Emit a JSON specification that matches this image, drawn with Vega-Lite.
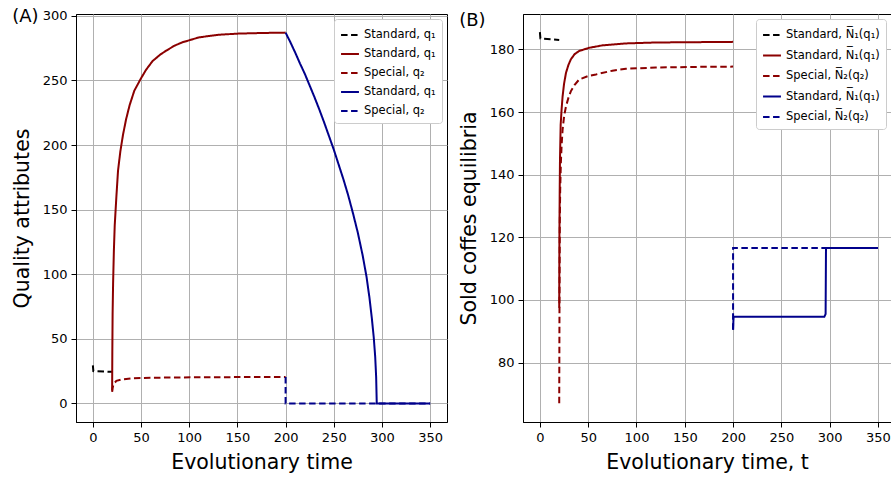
{
  "$schema": "https://vega.github.io/schema/vega-lite/v6.json",
  "padding": {"left": 11, "top": 7, "right": 0, "bottom": 5},
  "spacing": 76,
  "bounds": "flush",
  "datasets": {
    "A": [
      {"s": "s1", "i": 0, "t": 0, "v": 29.5},
      {"s": "s1", "i": 1, "t": 0.5, "v": 25},
      {"s": "s1", "i": 2, "t": 20, "v": 24.5},
      {"s": "s2", "i": 0, "t": 20, "v": 10},
      {"s": "s2", "i": 1, "t": 20.2, "v": 40},
      {"s": "s2", "i": 2, "t": 20.5, "v": 70},
      {"s": "s2", "i": 3, "t": 21, "v": 93},
      {"s": "s2", "i": 4, "t": 21.8, "v": 118},
      {"s": "s2", "i": 5, "t": 22.7, "v": 138},
      {"s": "s2", "i": 6, "t": 24.4, "v": 160},
      {"s": "s2", "i": 7, "t": 26.1, "v": 180},
      {"s": "s2", "i": 8, "t": 28.5, "v": 195},
      {"s": "s2", "i": 9, "t": 31.3, "v": 208},
      {"s": "s2", "i": 10, "t": 34.5, "v": 220},
      {"s": "s2", "i": 11, "t": 38.2, "v": 231},
      {"s": "s2", "i": 12, "t": 43, "v": 242},
      {"s": "s2", "i": 13, "t": 49.5, "v": 251},
      {"s": "s2", "i": 14, "t": 55, "v": 258},
      {"s": "s2", "i": 15, "t": 62, "v": 265},
      {"s": "s2", "i": 16, "t": 70, "v": 270},
      {"s": "s2", "i": 17, "t": 76, "v": 273},
      {"s": "s2", "i": 18, "t": 85, "v": 277},
      {"s": "s2", "i": 19, "t": 93, "v": 279.5},
      {"s": "s2", "i": 20, "t": 110, "v": 283.3},
      {"s": "s2", "i": 21, "t": 130, "v": 285.3},
      {"s": "s2", "i": 22, "t": 150, "v": 286.2},
      {"s": "s2", "i": 23, "t": 175, "v": 286.7},
      {"s": "s2", "i": 24, "t": 200, "v": 287},
      {"s": "s3", "i": 0, "t": 20, "v": 9},
      {"s": "s3", "i": 1, "t": 20.5, "v": 12},
      {"s": "s3", "i": 2, "t": 21.5, "v": 15},
      {"s": "s3", "i": 3, "t": 24.4, "v": 17.5},
      {"s": "s3", "i": 4, "t": 30, "v": 18.6},
      {"s": "s3", "i": 5, "t": 41.6, "v": 19.5},
      {"s": "s3", "i": 6, "t": 60, "v": 19.9},
      {"s": "s3", "i": 7, "t": 110, "v": 20.3},
      {"s": "s3", "i": 8, "t": 200, "v": 20.5},
      {"s": "s4", "i": 0, "t": 200, "v": 287},
      {"s": "s4", "i": 1, "t": 205, "v": 279.5},
      {"s": "s4", "i": 2, "t": 210, "v": 271.5},
      {"s": "s4", "i": 3, "t": 215, "v": 263},
      {"s": "s4", "i": 4, "t": 220, "v": 255},
      {"s": "s4", "i": 5, "t": 225, "v": 246},
      {"s": "s4", "i": 6, "t": 230, "v": 237},
      {"s": "s4", "i": 7, "t": 235, "v": 227.5},
      {"s": "s4", "i": 8, "t": 240, "v": 217.5},
      {"s": "s4", "i": 9, "t": 245, "v": 207},
      {"s": "s4", "i": 10, "t": 250, "v": 196.5},
      {"s": "s4", "i": 11, "t": 255, "v": 185},
      {"s": "s4", "i": 12, "t": 260, "v": 173.5},
      {"s": "s4", "i": 13, "t": 265, "v": 161},
      {"s": "s4", "i": 14, "t": 270, "v": 147},
      {"s": "s4", "i": 15, "t": 275, "v": 132},
      {"s": "s4", "i": 16, "t": 280, "v": 114.5},
      {"s": "s4", "i": 17, "t": 284, "v": 98},
      {"s": "s4", "i": 18, "t": 287, "v": 82},
      {"s": "s4", "i": 19, "t": 289.5, "v": 66},
      {"s": "s4", "i": 20, "t": 291.5, "v": 51},
      {"s": "s4", "i": 21, "t": 293, "v": 36},
      {"s": "s4", "i": 22, "t": 294, "v": 20},
      {"s": "s4", "i": 23, "t": 294.6, "v": 0},
      {"s": "s4", "i": 24, "t": 350, "v": 0},
      {"s": "s5", "i": 0, "t": 200, "v": 20.5},
      {"s": "s5", "i": 1, "t": 200, "v": 0},
      {"s": "s5", "i": 2, "t": 350, "v": 0}
    ],
    "B": [
      {"s": "s1", "i": 0, "t": 0, "v": 185.5},
      {"s": "s1", "i": 1, "t": 0.5, "v": 183.5},
      {"s": "s1", "i": 2, "t": 20, "v": 183},
      {"s": "s2", "i": 0, "t": 20, "v": 97.5},
      {"s": "s2", "i": 1, "t": 20.2, "v": 120},
      {"s": "s2", "i": 2, "t": 20.5, "v": 135},
      {"s": "s2", "i": 3, "t": 20.8, "v": 145},
      {"s": "s2", "i": 4, "t": 21.5, "v": 156},
      {"s": "s2", "i": 5, "t": 22.5, "v": 161},
      {"s": "s2", "i": 6, "t": 23.5, "v": 165},
      {"s": "s2", "i": 7, "t": 25, "v": 169},
      {"s": "s2", "i": 8, "t": 27, "v": 172.5},
      {"s": "s2", "i": 9, "t": 29.5, "v": 175},
      {"s": "s2", "i": 10, "t": 32, "v": 176.8},
      {"s": "s2", "i": 11, "t": 36, "v": 178.5},
      {"s": "s2", "i": 12, "t": 40.7, "v": 179.5},
      {"s": "s2", "i": 13, "t": 51, "v": 180.5},
      {"s": "s2", "i": 14, "t": 65, "v": 181.3},
      {"s": "s2", "i": 15, "t": 89, "v": 181.9},
      {"s": "s2", "i": 16, "t": 120, "v": 182.2},
      {"s": "s2", "i": 17, "t": 160, "v": 182.3},
      {"s": "s2", "i": 18, "t": 200, "v": 182.4},
      {"s": "s3", "i": 0, "t": 20, "v": 67},
      {"s": "s3", "i": 1, "t": 20.3, "v": 100},
      {"s": "s3", "i": 2, "t": 20.6, "v": 125},
      {"s": "s3", "i": 3, "t": 21, "v": 135},
      {"s": "s3", "i": 4, "t": 21.7, "v": 143.8},
      {"s": "s3", "i": 5, "t": 22.5, "v": 149.5},
      {"s": "s3", "i": 6, "t": 23.5, "v": 154.4},
      {"s": "s3", "i": 7, "t": 25, "v": 158.5},
      {"s": "s3", "i": 8, "t": 27, "v": 161.8},
      {"s": "s3", "i": 9, "t": 29.5, "v": 164.5},
      {"s": "s3", "i": 10, "t": 32, "v": 166.6},
      {"s": "s3", "i": 11, "t": 36, "v": 168.7},
      {"s": "s3", "i": 12, "t": 40.7, "v": 170.4},
      {"s": "s3", "i": 13, "t": 50, "v": 171.5},
      {"s": "s3", "i": 14, "t": 58, "v": 172},
      {"s": "s3", "i": 15, "t": 75, "v": 173.2},
      {"s": "s3", "i": 16, "t": 89, "v": 173.8},
      {"s": "s3", "i": 17, "t": 120, "v": 174.2},
      {"s": "s3", "i": 18, "t": 160, "v": 174.4},
      {"s": "s3", "i": 19, "t": 200, "v": 174.5},
      {"s": "s4", "i": 0, "t": 200, "v": 90.5},
      {"s": "s4", "i": 1, "t": 200.5, "v": 94.6},
      {"s": "s4", "i": 2, "t": 294.5, "v": 94.6},
      {"s": "s4", "i": 3, "t": 295.8, "v": 95.5},
      {"s": "s4", "i": 4, "t": 296.2, "v": 116.6},
      {"s": "s4", "i": 5, "t": 350, "v": 116.6},
      {"s": "s5", "i": 0, "t": 200, "v": 90.5},
      {"s": "s5", "i": 1, "t": 200, "v": 116.6},
      {"s": "s5", "i": 2, "t": 350, "v": 116.6}
    ]
  },
  "hconcat": [
    {
      "width": 371,
      "height": 408,
      "data": {"name": "A"},
      "title": {"text": "(A)", "anchor": "start", "frame": "bounds", "offset": -16, "fontSize": 18, "fontWeight": "normal", "font": "DejaVu Sans", "color": "black"},
      "mark": {"type": "line", "strokeWidth": 2, "clip": true},
      "encoding": {
        "x": {"field": "t", "type": "quantitative", "title": "Evolutionary time",
              "scale": {"domain": [-17.5, 367.5], "nice": false, "zero": false},
              "axis": {"values": [0, 50, 100, 150, 200, 250, 300, 350]}},
        "y": {"field": "v", "type": "quantitative", "title": "Quality attributes",
              "scale": {"domain": [-14.35, 301.4], "nice": false, "zero": false},
              "axis": {"values": [0, 50, 100, 150, 200, 250, 300]}},
        "order": {"field": "i", "type": "quantitative"},
        "color": {"field": "s", "type": "nominal",
                  "scale": {"domain": ["s1", "s2", "s3", "s4", "s5"], "range": ["black", "#8b0000", "#8b0000", "#00008b", "#00008b"]},
                  "legend": {"title": null, "rowPadding": 3, "labelExpr": "{'s1': 'Standard, q₁', 's2': 'Standard, q₁', 's3': 'Special, q₂', 's4': 'Standard, q₁', 's5': 'Special, q₂'}[datum.label]"}},
        "strokeDash": {"field": "s", "type": "nominal",
                  "scale": {"domain": ["s1", "s2", "s3", "s4", "s5"], "range": [[6.5, 3.5], [1, 0], [6.5, 3.5], [1, 0], [6.5, 3.5]]},
                  "legend": {"title": null, "rowPadding": 3, "labelExpr": "{'s1': 'Standard, q₁', 's2': 'Standard, q₁', 's3': 'Special, q₂', 's4': 'Standard, q₁', 's5': 'Special, q₂'}[datum.label]"}}
      }
    },
    {
      "width": 368,
      "height": 408,
      "data": {"name": "B"},
      "title": {"text": "(B)", "anchor": "start", "frame": "bounds", "offset": -16, "fontSize": 18, "fontWeight": "normal", "font": "DejaVu Sans", "color": "black"},
      "mark": {"type": "line", "strokeWidth": 2, "clip": true},
      "encoding": {
        "x": {"field": "t", "type": "quantitative", "title": "Evolutionary time, t",
              "scale": {"domain": [-17.5, 363.5], "nice": false, "zero": false},
              "axis": {"values": [0, 50, 100, 150, 200, 250, 300, 350]}},
        "y": {"field": "v", "type": "quantitative", "title": "Sold coffes equilibria",
              "scale": {"domain": [61, 191.3], "nice": false, "zero": false},
              "axis": {"values": [80, 100, 120, 140, 160, 180]}},
        "order": {"field": "i", "type": "quantitative"},
        "color": {"field": "s", "type": "nominal",
                  "scale": {"domain": ["s1", "s2", "s3", "s4", "s5"], "range": ["black", "#8b0000", "#8b0000", "#00008b", "#00008b"]},
                  "legend": {"title": null, "rowPadding": 4.5, "labelExpr": "{'s1': 'Standard, N̅₁(q₁)', 's2': 'Standard, N̅₁(q₁)', 's3': 'Special, N̅₂(q₂)', 's4': 'Standard, N̅₁(q₁)', 's5': 'Special, N̅₂(q₂)'}[datum.label]"}},
        "strokeDash": {"field": "s", "type": "nominal",
                  "scale": {"domain": ["s1", "s2", "s3", "s4", "s5"], "range": [[6.5, 3.5], [1, 0], [6.5, 3.5], [1, 0], [6.5, 3.5]]},
                  "legend": {"title": null, "rowPadding": 4.5, "labelExpr": "{'s1': 'Standard, N̅₁(q₁)', 's2': 'Standard, N̅₁(q₁)', 's3': 'Special, N̅₂(q₂)', 's4': 'Standard, N̅₁(q₁)', 's5': 'Special, N̅₂(q₂)'}[datum.label]"}}
      }
    }
  ],
  "resolve": {"scale": {"color": "independent", "strokeDash": "independent", "x": "independent", "y": "independent"}, "legend": {"color": "independent", "strokeDash": "independent"}},
  "config": {
    "font": "DejaVu Sans",
    "view": {"stroke": "black", "strokeWidth": 1},
    "axis": {"domainColor": "black", "tickColor": "black", "labelColor": "black", "titleColor": "black",
             "gridColor": "#b0b0b0", "gridWidth": 1, "tickSize": 5, "labelFontSize": 13, "titleFontSize": 20.5,
             "titleFontWeight": "normal", "labelPadding": 4, "labelFont": "DejaVu Sans", "titleFont": "DejaVu Sans"},
    "axisY": {"titlePadding": 10},
    "axisX": {"titlePadding": 8},
    "legend": {"orient": "top-right", "offset": 5, "fillColor": "white", "strokeColor": "#cccccc", "cornerRadius": 3,
               "padding": 6, "labelFontSize": 11.5, "labelFont": "DejaVu Sans", "labelColor": "black", "symbolType": "stroke", "symbolSize": 320,
               "symbolStrokeWidth": 2}
  }
}
